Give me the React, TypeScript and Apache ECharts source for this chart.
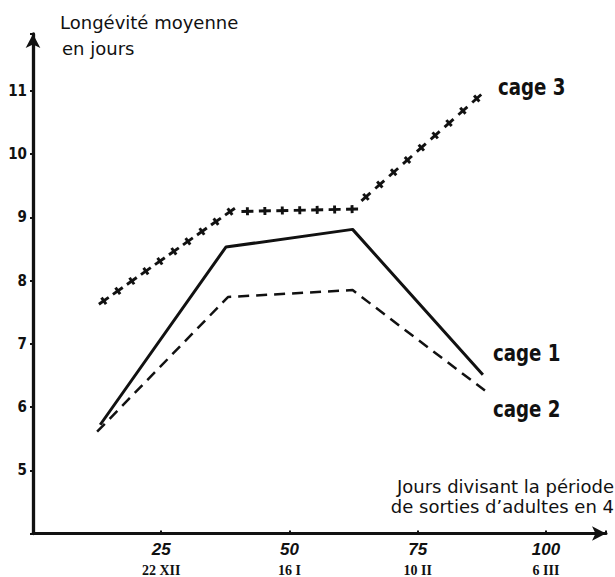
import React, { useEffect, useRef } from "react";
import * as echarts from "echarts";

// x: day dividing the adult-emergence period, y: mean longevity (days)
const cage1: [number, number][] = [
  [13.1, 5.72],
  [37.6, 8.53],
  [62.3, 8.81],
  [87.7, 6.51],
];
const cage2: [number, number][] = [
  [12.5, 5.61],
  [38.0, 7.74],
  [62.3, 7.85],
  [88.1, 6.26],
];
const cage3: [number, number][] = [
  [13.8, 7.68],
  [38.4, 9.09],
  [62.2, 9.13],
  [86.5, 10.88],
];
const xTickValues = [25, 50, 75, 100];
const xTickDates = ["22 XII", "16 I", "10 II", "6 III"];
const yTickValues = [5, 6, 7, 8, 9, 10, 11];
const seriesNames = ["cage 1", "cage 2", "cage 3"];

const INK = "#111";

export default function App() {
  const ref = useRef<HTMLDivElement>(null);
  useEffect(() => {
    document.body.style.margin = "0";
    if (!ref.current) return;
    const chart = echarts.init(ref.current, null, { renderer: "svg" });

    const crossRender = (params: any, api: any) => {
      const i = params.dataIndexInside;
      const p1 = api.coord([api.value(0, i), api.value(1, i)]);
      const makeCross = (x: number, y: number, rot: number) => ({
        type: "group",
        x,
        y,
        rotation: rot,
        children: [
          { type: "line", shape: { x1: -6, y1: 0, x2: 6, y2: 0 }, style: { stroke: INK, lineWidth: 2.9 } },
          { type: "line", shape: { x1: 0, y1: -4, x2: 0, y2: 4 }, style: { stroke: INK, lineWidth: 2.9 } },
        ],
      });
      if (i === 0) {
        const pn = api.coord([api.value(0, 1), api.value(1, 1)]);
        const rot = -Math.atan2(pn[1] - p1[1], pn[0] - p1[0]);
        return { type: "group", children: [makeCross(p1[0], p1[1], rot)] };
      }
      const p0 = api.coord([api.value(0, i - 1), api.value(1, i - 1)]);
      const dx = p1[0] - p0[0];
      const dy = p1[1] - p0[1];
      const len = Math.sqrt(dx * dx + dy * dy);
      const n = Math.max(1, Math.round(len / 18));
      const rot = -Math.atan2(dy, dx);
      const children: any[] = [];
      for (let k = 1; k <= n; k++) {
        const t = k / n;
        children.push(makeCross(p0[0] + dx * t, p0[1] + dy * t, rot));
      }
      return { type: "group", children };
    };

    const labelFont = "'DejaVu Sans Condensed', 'Liberation Sans Narrow', sans-serif";
    const cageLabel = (text: string, x: number, y: number) => ({
      type: "text",
      x,
      y,
      scaleX: 0.88,
      style: {
        text,
        font: `bold 23px ${labelFont}`,
        fill: INK,
        verticalAlign: "middle",
        align: "left",
      },
    });

    chart.setOption({
      animation: false,
      backgroundColor: "#fff",
      grid: { left: 33, right: 9, top: 34, bottom: 42, containLabel: false },
      xAxis: {
        type: "value",
        min: 0,
        max: 111.7,
        interval: 25,
        splitLine: { show: false },
        axisLine: {
          show: true,
          lineStyle: { color: INK, width: 3 },
          symbol: ["none", "arrow"],
          symbolSize: [11, 14],
        },
        axisTick: { show: true, inside: true, length: 3, lineStyle: { color: INK, width: 2 } },
        axisLabel: {
          margin: 5,
          color: INK,
          formatter: (v: number) => {
            const idx = xTickValues.indexOf(v);
            if (idx < 0) return "";
            return `{a|${v}}\n{b|${xTickDates[idx]}}`;
          },
          rich: {
            a: {
              fontFamily: "'Liberation Sans', sans-serif",
              fontWeight: "bold",
              fontStyle: "italic",
              fontSize: 17,
              lineHeight: 21,
              color: INK,
            },
            b: {
              fontFamily: "'Liberation Serif', serif",
              fontWeight: "bold",
              fontSize: 14,
              lineHeight: 21,
              color: INK,
            },
          },
        },
      },
      yAxis: {
        type: "value",
        min: 4,
        max: 11.9,
        interval: 1,
        splitLine: { show: false },
        axisLine: {
          show: true,
          lineStyle: { color: INK, width: 3.3 },
          symbol: ["none", "arrow"],
          symbolSize: [11, 14],
        },
        axisTick: { show: true, length: 3, lineStyle: { color: INK, width: 2 } },
        axisLabel: {
          margin: 6,
          color: INK,
          fontFamily: labelFont,
          fontWeight: "bold",
          fontSize: 15,
          formatter: (v: number) => (yTickValues.indexOf(v) >= 0 ? String(v) : ""),
        },
      },
      series: [
        {
          name: seriesNames[0],
          type: "line",
          data: cage1,
          symbol: "none",
          lineStyle: { color: INK, width: 3 },
        },
        {
          name: seriesNames[1],
          type: "line",
          data: cage2,
          symbol: "none",
          lineStyle: { color: INK, width: 2.5, type: [11, 7] },
        },
        {
          name: seriesNames[2],
          type: "custom",
          data: cage3,
          renderItem: crossRender,
          clip: false,
        },
      ],
      graphic: [
        {
          type: "text",
          left: 60,
          top: 13,
          style: { text: "Longévité moyenne", font: "18px 'DejaVu Sans', sans-serif", fill: INK },
        },
        {
          type: "text",
          left: 62,
          top: 39,
          style: { text: "en jours", font: "18px 'DejaVu Sans', sans-serif", fill: INK },
        },
        {
          type: "text",
          right: 1,
          top: 477,
          style: { text: "Jours divisant la période", font: "18px 'DejaVu Sans', sans-serif", fill: INK },
        },
        {
          type: "text",
          right: 1,
          top: 497,
          style: { text: "de sorties d’adultes en 4", font: "18px 'DejaVu Sans', sans-serif", fill: INK },
        },
        cageLabel(seriesNames[2], 498, 87),
        cageLabel(seriesNames[0], 493, 353),
        cageLabel(seriesNames[1], 493, 409),
      ],
    });
    return () => chart.dispose();
  }, []);
  return <div ref={ref} style={{ width: 615, height: 577 }} />;
}
